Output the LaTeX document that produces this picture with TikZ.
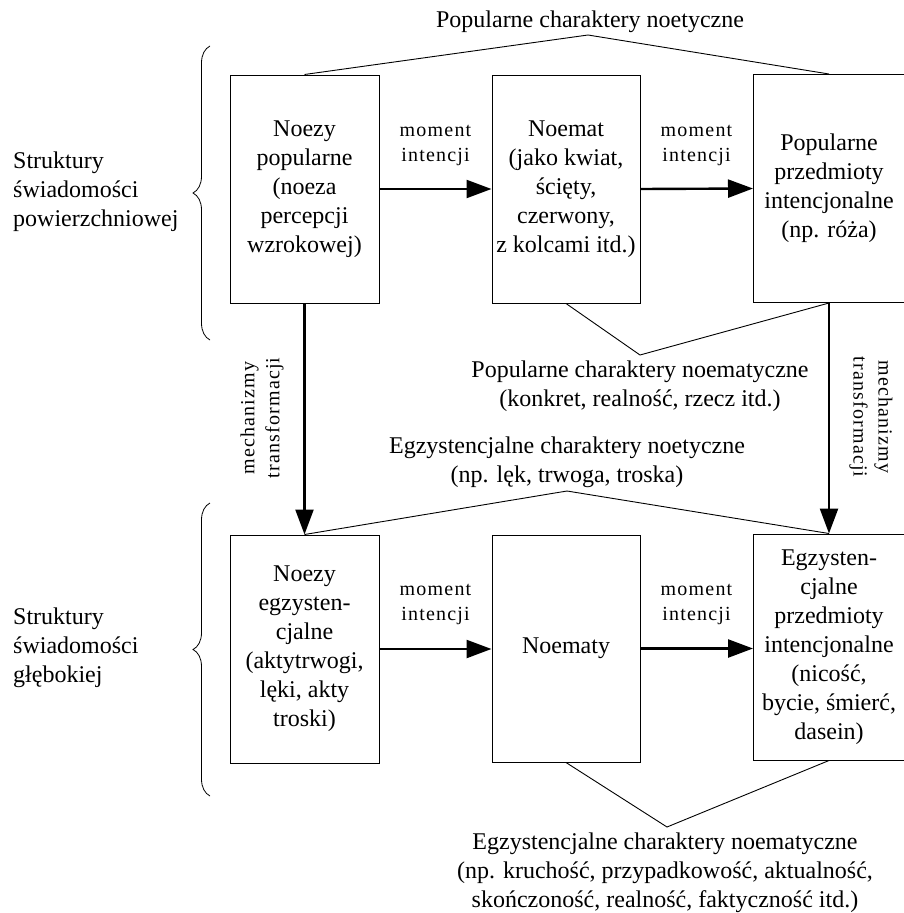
\documentclass[tikz,border=0pt]{standalone}
\usepackage{fontspec}
\setmainfont{Liberation Serif}
\newfontfamily\spacedfont[LetterSpace=6]{Liberation Serif}
\usepackage{tikz}
\usetikzlibrary{arrows.meta,decorations.pathreplacing}

\begin{document}
\begin{tikzpicture}[x=1pt,y=-1pt,
  box/.style={draw,line width=1pt,minimum width=149pt,minimum height=228pt,inner sep=0pt,align=center,font=\fontsize{24}{29}\selectfont},
  txt/.style={align=center,inner sep=0pt,font=\fontsize{24}{29}\selectfont},
  lbl/.style={align=center,inner sep=0pt,font=\spacedfont\fontsize{20}{25}\selectfont},
  arr/.style={line width=2.4pt,-{Triangle[length=25pt,width=18pt]}},
  wedge/.style={line width=0.9pt},
  brc/.style={line width=0.8pt,decorate,decoration={brace,amplitude=17pt}}]
\useasboundingbox (0,0) rectangle (903,913);

\node[box] (np) at (304.5,189) {Noezy\\popularne\\(noeza\\percepcji\\wzrokowej)};
\node[box,minimum width=148pt] (nm) at (566,189) {Noemat\\(jako kwiat,\\ścięty,\\czerwony,\\z kolcami itd.)};
\node[box,minimum width=151pt] (pp) at (829,188.5) {Popularne\\przedmioty\\intencjonalne\\(np. róża)};

\node[box] (ne) at (304.5,649) {Noezy\\egzysten-\\cjalne\\(aktytrwogi,\\lęki, akty\\troski)};
\node[box,minimum width=148pt,minimum height=227pt] (nt) at (566,648.5) {Noematy};
\node[box,minimum width=151pt,minimum height=226pt] (ep) at (829,647) {Egzysten-\\cjalne\\przedmioty\\intencjonalne\\(nicość,\\bycie, śmierć,\\dasein)};

\draw[arr] (np.east) -- (nm.west);
\draw[arr] (nm.east) -- (pp.west);
\draw[arr] (ne.east) -- (ne.east -| nt.west);
\draw[arr] (nt.east) -- (nt.east -| ep.west);
\draw[arr] (np.south) -- (ne.north);
\draw[arr] (pp.south) -- (ep.north);

\node[lbl] (m1) at (435.5,145) {moment\\intencji};
\node[lbl] (m2) at (696.5,145) {moment\\intencji};
\node[lbl] (m3) at (435.5,604) {moment\\intencji};
\node[lbl] (m4) at (696.5,604) {moment\\intencji};
\node[lbl,rotate=90] (t1) at (262,418) {mechanizmy\\transformacji};
\node[lbl,rotate=-90] (t2) at (871,417) {mechanizmy\\transformacji};

\coordinate (a1) at (588,35);
\coordinate (a2) at (640,355);
\coordinate (a3) at (567,491);
\coordinate (a4) at (667,827);
\draw[wedge] (np.north) -- (a1) -- (pp.north);
\draw[wedge] (nm.south) -- (a2) -- (pp.south);
\draw[wedge] (ne.north) -- (a3) -- (ep.north);
\draw[wedge] (nt.south) -- (a4) -- (ep.south);

\node[txt] (c1) at (590,22) {Popularne charaktery noetyczne};
\node[txt] (c2) at (640,386) {Popularne charaktery noematyczne\\(konkret, realność, rzecz itd.)};
\node[txt] (c3) at (567,462) {Egzystencjalne charaktery noetyczne\\(np. lęk, trwoga, troska)};
\node[txt] (c4) at (665,873) {Egzystencjalne charaktery noematyczne\\(np. kruchość, przypadkowość, aktualność,\\skończoność, realność, faktyczność itd.)};

\node[txt,align=left,anchor=west] (s1) at (13,192) {Struktury\\świadomości\\powierzchniowej};
\node[txt,align=left,anchor=west] (s2) at (13,648) {Struktury\\świadomości\\głębokiej};
\draw[brc] (210,340) -- (210,46);
\draw[brc] (210,796) -- (210,503);
\end{tikzpicture}
\end{document}
